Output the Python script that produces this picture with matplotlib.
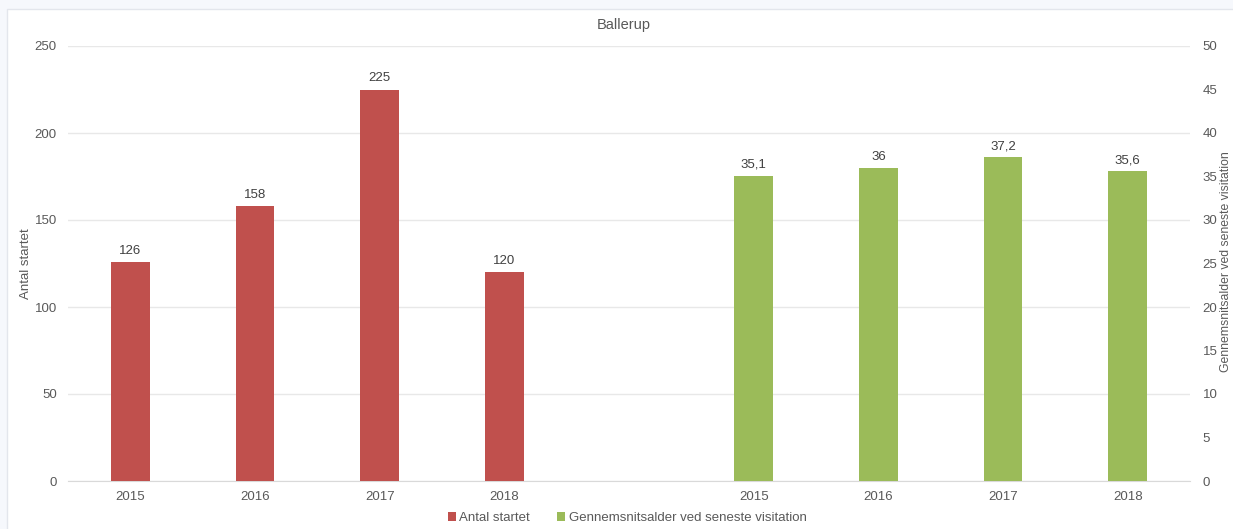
import numpy as np
import matplotlib.pyplot as plt
from matplotlib.patches import Rectangle

years = ['2015', '2016', '2017', '2018']
antal_startet = [126, 158, 225, 120]
gns_alder = [35.1, 36, 37.2, 35.6]

RED = '#c0504d'
GREEN = '#9bbb59'
TXT = '#595959'

plt.rcParams['font.family'] = ['Liberation Sans', 'DejaVu Sans']
plt.rcParams['font.size'] = 9.5

fig = plt.figure(figsize=(12.33, 5.29), dpi=100)
fig.patch.set_facecolor('#f6f8fc')
# white chart panel, behind the axes
panel = Rectangle((7/1233, -0.01), 1.0, 1 - 9/529 + 0.01, transform=fig.transFigure,
                  facecolor='white', edgecolor='#e3e6ec', linewidth=1.0, zorder=-10)
fig.add_artist(panel)

ax = fig.add_axes([68/1233, 48/529, 1122/1233, 435/529])
ax2 = ax.twinx()
ax.patch.set_alpha(0)

x_red = np.arange(len(years))
x_green = np.arange(len(years)) + len(years) + 1
w = 0.31

bars1 = ax.bar(x_red, antal_startet, width=w, color=RED, zorder=3, label='Antal startet')
bars2 = ax2.bar(x_green, gns_alder, width=w, color=GREEN, zorder=3,
                label='Gennemsnitsalder ved seneste visitation')

for b, v in zip(bars1, antal_startet):
    ax.text(b.get_x() + b.get_width()/2, v + 3, str(v), ha='center', va='bottom', color='#404040')
for b, v in zip(bars2, gns_alder):
    s = ('%g' % v).replace('.', ',')
    ax2.text(b.get_x() + b.get_width()/2, v + 0.6, s, ha='center', va='bottom', color='#404040')

ax.set_xlim(-0.5, 8.5)
ax.set_ylim(0, 250)
ax2.set_ylim(0, 50)
ax.set_yticks(range(0, 251, 50))
ax2.set_yticks(range(0, 51, 5))
ax.set_xticks(list(x_red) + list(x_green))
ax.set_xticklabels(years + years)

ax.grid(axis='y', color='#e8e8e8', linewidth=1, zorder=0)
ax.set_axisbelow(True)
for a in (ax, ax2):
    for sp in a.spines.values():
        sp.set_visible(False)
    a.tick_params(length=0, colors=TXT, labelsize=9.5)
ax.spines['bottom'].set_visible(True)
ax.spines['bottom'].set_color('#d9d9d9')
ax.tick_params(axis='y', pad=8)
ax2.tick_params(axis='y', pad=9)
ax.tick_params(axis='x', pad=7)

ax.set_ylabel('Antal startet', color=TXT)
ax.yaxis.set_label_coords(-36/1122, 0.5)
fig.text(1226/1233, 1 - 262/529, 'Gennemsnitsalder ved seneste visitation', rotation=90,
         ha='center', va='center', color=TXT, fontsize=8.8)
fig.text(624/1233, 1 - 25/529, 'Ballerup', ha='center', va='center', color=TXT, fontsize=10.5)

h1, l1 = ax.get_legend_handles_labels()
h2, l2 = ax2.get_legend_handles_labels()
fig.legend(h1 + h2, l1 + l2, loc='center', bbox_to_anchor=(627/1233, 1 - 518/529), ncol=2,
           frameon=False, handlelength=0.6, handleheight=0.6, handletextpad=0.3,
           columnspacing=2.0, labelcolor=TXT, fontsize=9.5)

fig.savefig('out.png', dpi=100)
